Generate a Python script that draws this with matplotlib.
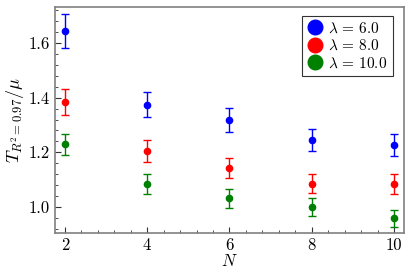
import matplotlib
matplotlib.use("Agg")
import matplotlib.pyplot as plt
from matplotlib.ticker import MultipleLocator
from matplotlib.lines import Line2D

plt.rcParams['font.family'] = 'serif'
plt.rcParams['font.serif'] = ['cmr10', 'DejaVu Serif']
plt.rcParams['mathtext.fontset'] = 'cm'
plt.rcParams['axes.formatter.use_mathtext'] = True

N = [2, 4, 6, 8, 10]
labels = [r'$\lambda\,=\,6.0$', r'$\lambda\,=\,8.0$', r'$\lambda\,=\,10.0$']
colors = ['blue', 'red', 'green']
vals = [
    [1.644, 1.375, 1.318, 1.246, 1.226],
    [1.385, 1.205, 1.142, 1.085, 1.084],
    [1.229, 1.085, 1.032, 1.000, 0.958],
]
errs = [
    [0.061, 0.047, 0.043, 0.040, 0.040],
    [0.047, 0.040, 0.037, 0.035, 0.035],
    [0.039, 0.037, 0.034, 0.033, 0.031],
]

fig = plt.figure(figsize=(4.15, 2.77), dpi=100)
ax = fig.add_axes([0.1325, 0.16, 0.841, 0.813])

for v, e, c, l in zip(vals, errs, colors, labels):
    ax.errorbar(N, v, yerr=e, fmt='o', color=c, ecolor=c, markersize=4.5,
                capsize=3, elinewidth=1, capthick=1)

ax.set_xlim(1.76, 10.24)
ax.set_ylim(0.906, 1.730)
ax.xaxis.set_major_locator(MultipleLocator(2))
ax.xaxis.set_minor_locator(MultipleLocator(0.4))
ax.yaxis.set_major_locator(MultipleLocator(0.2))
ax.yaxis.set_minor_locator(MultipleLocator(0.04))
ax.yaxis.set_major_formatter(matplotlib.ticker.FormatStrFormatter('%.1f'))
ax.xaxis.set_major_formatter(matplotlib.ticker.FormatStrFormatter('%d'))
ax.tick_params(which='both', direction='in', top=False, right=False, labelsize=12, color='#333333')
ax.tick_params(which='major', length=4)
ax.tick_params(which='minor', length=2)
for s in ax.spines.values():
    s.set_color('#808080')
    s.set_linewidth(1.2)

ax.set_xlabel(r'$N$', fontsize=12, labelpad=0)
ax.set_ylabel(r'$T_{R^2=0.97}/\mu$', fontsize=13, labelpad=2)

handles = [Line2D([], [], marker='o', linestyle='', color=c, markersize=10.5)
           for c in colors]
leg = ax.legend(handles, labels, loc='upper right', bbox_to_anchor=(0.9685, 0.9636),
                fontsize=11, frameon=True, fancybox=False,
                edgecolor='black', handletextpad=0.4, borderpad=0.35,
                labelspacing=0.2, handlelength=1.0,
                borderaxespad=0.0)
leg.get_frame().set_linewidth(0.8)

fig.savefig('out.png', dpi=100)
